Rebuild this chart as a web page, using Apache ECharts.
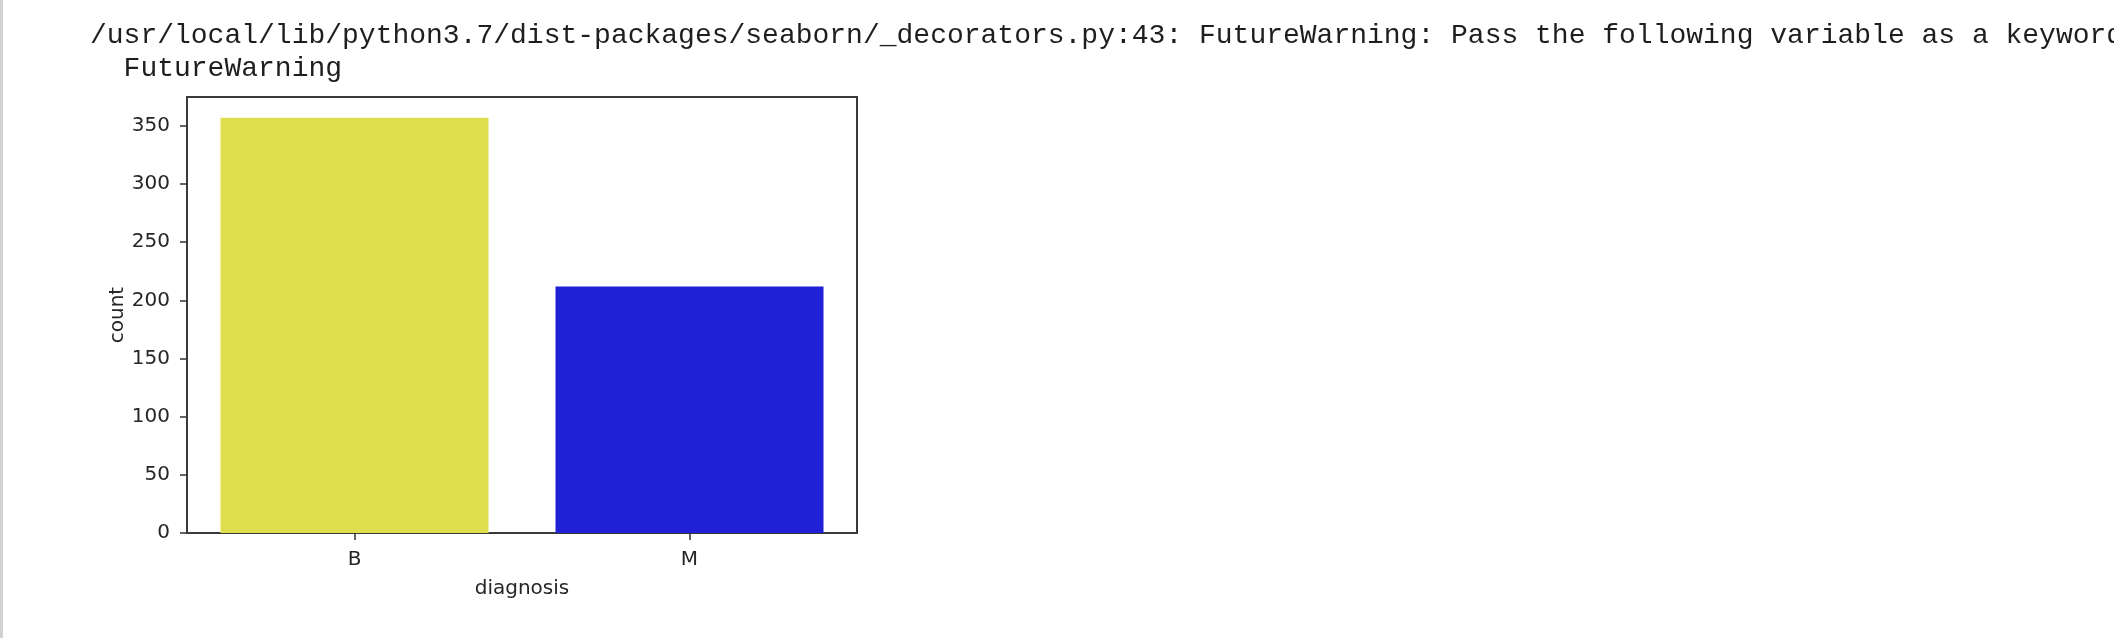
<!DOCTYPE html>
<html>
<head>
<meta charset="utf-8">
<script src="https://cdn.jsdelivr.net/npm/echarts@6/dist/echarts.min.js"></script>
<style>
html,body{margin:0;padding:0;background:#fff;}
#chart{width:2114px;height:638px;}
</style>
</head>
<body>
<div id="chart"></div>
<script>
const categories = ['B', 'M'];
const counts = [357, 212];
const barColors = ['#dfdf4e', '#2020d6'];
const yTicks = [0, 50, 100, 150, 200, 250, 300, 350];
const yMax = 374.85;
const warningLines = [
  '/usr/local/lib/python3.7/dist-packages/seaborn/_decorators.py:43: FutureWarning: Pass the following variable as a keyword arg: x. From version 0.12, the only valid positional argument will be `data`, and passing other arguments without an explicit keyword will result in an error or misinterpretation.',
  '  FutureWarning'
];
const xName = 'diagnosis';
const yName = 'count';

const chart = echarts.init(document.getElementById('chart'), null, {renderer: 'canvas'});
const tickFont = {fontFamily: 'DejaVu Sans', fontSize: 20, color: '#262626'};
chart.setOption({
  animation: false,
  backgroundColor: '#ffffff',
  graphic: [
    {type: 'rect', left: 0, top: 0, shape: {width: 3, height: 638}, style: {fill: '#d2d2d2'}},
    {type: 'text', x: 90, y: 36, style: {text: warningLines[0], font: '28px "Liberation Mono"', fill: '#1e1e1e', verticalAlign: 'middle'}},
    {type: 'text', x: 90, y: 68.5, style: {text: warningLines[1], font: '28px "Liberation Mono"', fill: '#1e1e1e', verticalAlign: 'middle'}}
  ],
  grid: {
    left: 187, right: 2114 - 857, top: 97, bottom: 638 - 533,
    show: true, borderColor: '#3a3a3a', borderWidth: 2, backgroundColor: 'transparent'
  },
  xAxis: {
    type: 'category',
    data: categories,
    boundaryGap: true,
    name: xName,
    nameLocation: 'middle',
    nameGap: 46,
    nameTextStyle: tickFont,
    axisLine: {show: false},
    axisTick: {show: true, alignWithLabel: true, length: 7, lineStyle: {color: '#333', width: 1.5}},
    axisLabel: Object.assign({margin: 17}, tickFont),
    splitLine: {show: false}
  },
  yAxis: {
    type: 'value',
    min: 0,
    max: yMax,
    interval: 50,
    name: yName,
    nameLocation: 'middle',
    nameGap: 58,
    nameRotate: 90,
    nameTextStyle: tickFont,
    axisLine: {show: false},
    axisTick: {show: true, length: 7, customValues: yTicks, lineStyle: {color: '#333', width: 1.5}},
    axisLabel: Object.assign({margin: 17, customValues: yTicks}, tickFont),
    splitLine: {show: false}
  },
  series: [{
    type: 'bar',
    barCategoryGap: '20%',
    data: counts.map((v, i) => ({value: v, itemStyle: {color: barColors[i]}}))
  }]
});
</script>
</body>
</html>
